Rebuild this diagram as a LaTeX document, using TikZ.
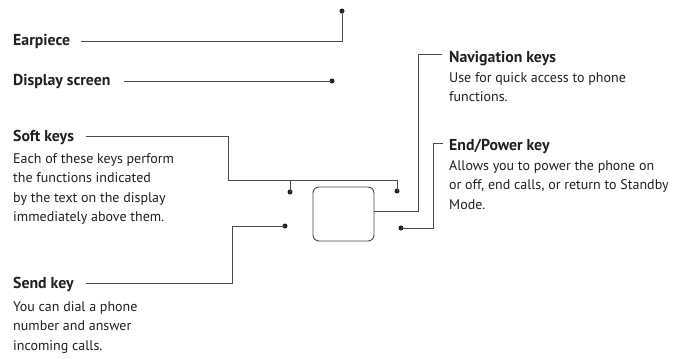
\documentclass[tikz,border=0pt]{standalone}
\usepackage{fontspec}
\setmainfont{PT Sans}
\definecolor{txt}{HTML}{231F20}
\definecolor{ln}{HTML}{4A4A4A}
\newcommand{\desc}[1]{\parbox[t]{240pt}{\fontsize{14.0}{19.5}\selectfont\raggedright #1}}
\tikzset{
  ttl/.style={anchor=base west, inner sep=0pt, text=txt, font=\fontsize{15.8}{18}\selectfont\bfseries},
  dsc/.style={anchor=base west, inner sep=0pt, text=txt},
  lead/.style={draw=ln, line width=0.9pt},
  dotpt/.style={circle, fill=txt, inner sep=0pt, minimum size=5pt},
  keybox/.style={draw=ln, line width=0.9pt, rounded corners=6pt}
}
\begin{document}
\begin{tikzpicture}[x=1pt,y=-1pt]
\useasboundingbox (0,0) rectangle (673,359);
% phone key block
\node[keybox, minimum width=61pt, minimum height=54pt, inner sep=0pt] (box) at (343.5,214) {};
% titles and descriptions
\node[ttl] (ear) at (13,45) {Earpiece};
\node[ttl] (disp) at (13,85) {Display screen};
\node[ttl] (soft) at (13,141) {Soft keys};
\node[dsc] (softd) at (13,163) {\desc{Each of these keys perform\\the functions indicated\\by the text on the display\\immediately above them.}};
\node[ttl] (send) at (13,288) {Send key};
\node[dsc] (sendd) at (13,311) {\desc{You can dial a phone\\number and answer\\incoming calls.}};
\node[ttl] (nav) at (449,62) {Navigation keys};
\node[dsc] (navd) at (449,82) {\desc{Use for quick access to phone\\functions.}};
\node[ttl] (endk) at (449,150) {End/Power key};
\node[dsc] (endd) at (449,170) {\desc{Allows you to power the phone on\\or off, end calls, or return to Standby\\Mode.}};
% leader start points
\coordinate (earS) at (81,41);
\coordinate (dispS) at (124,81);
\coordinate (softS) at (86,136);
\coordinate (sendS) at (86,283);
\coordinate (navS) at (442,54);
\coordinate (endS) at (443,143);
% dots
\node[dotpt] (earD) at (342,11) {};
\node[dotpt] (dispD) at (332,81) {};
\node[dotpt] (softL) at (290,192) {};
\node[dotpt] (softR) at (397,191) {};
\node[dotpt] (sendD) at (285,226) {};
\node[dotpt] (endD) at (401,228) {};
% leaders
\draw[lead] (earS) -| (earD.center);
\draw[lead] (dispS) -- (dispD.center);
\draw[lead] (softS) -- (228,136) |- (397,180) -- (softR.center);
\draw[lead] (softL.center) -- (softL.center |- 0,180);
\draw[lead] (sendS) -- (232,283) |- (sendD.center);
\draw[lead] (box.east |- 0,211) -- (418,211) |- (navS);
\draw[lead] (endD.center) -- (433,228) |- (endS);
\end{tikzpicture}
\end{document}
